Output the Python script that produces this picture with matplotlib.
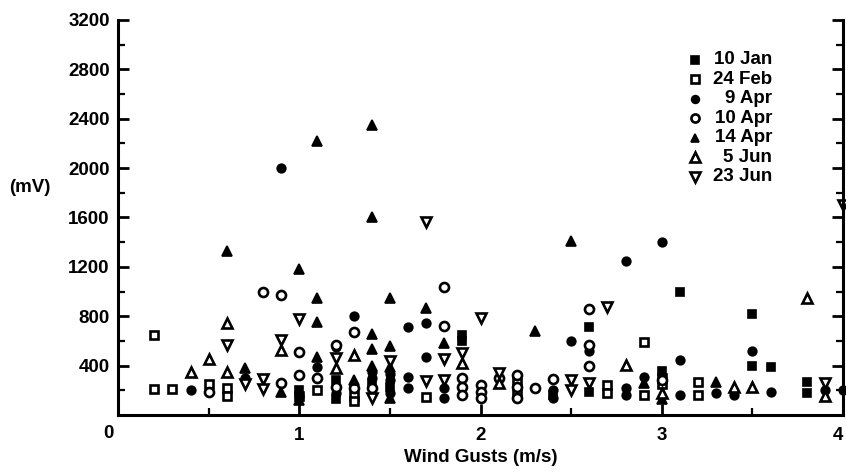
import matplotlib
matplotlib.use("Agg")
import matplotlib.pyplot as plt
import matplotlib.transforms as mtransforms
from matplotlib.ticker import MultipleLocator

plt.rcParams['font.family'] = ['Liberation Sans', 'DejaVu Sans']
plt.rcParams['font.weight'] = 'bold'

# ---- data (wind gust m/s, signal mV) ----
jan10_x = [1.0, 1.2, 1.2, 1.4, 1.5, 1.9, 1.9, 2.4, 2.6, 2.6, 3.0, 3.1, 3.5, 3.5, 3.6, 3.8, 3.8]
jan10_y = [200, 280, 130, 260, 230, 650, 600, 160, 715, 186, 360, 1000, 818, 397, 389, 267, 178]

feb24_x = [0.2, 0.2, 0.3, 0.5, 0.6, 0.6, 1.0, 1.1, 1.3, 1.3, 1.7, 2.2, 2.2, 2.7, 2.7, 2.9, 2.9, 3.0, 3.0, 3.2, 3.2]
feb24_y = [650, 210, 210, 250, 220, 150, 150, 200, 150, 110, 146, 275, 175, 243, 178, 590, 162, 300, 250, 267, 162]

apr9_x = [0.4, 0.7, 0.9, 1.0, 1.1, 1.2, 1.2, 1.3, 1.4, 1.4, 1.5, 1.5, 1.5, 1.6, 1.6, 1.6, 1.7, 1.7,
          1.8, 1.8, 2.4, 2.4, 2.5, 2.6, 2.8, 2.8, 2.8, 2.9, 3.0, 3.1, 3.1, 3.3, 3.4, 3.5, 3.6, 3.9, 4.0]
apr9_y = [200, 300, 2000, 150, 390, 550, 180, 800, 350, 300, 330, 280, 180, 712, 305, 218, 745, 470,
          218, 138, 200, 140, 600, 518, 1250, 218, 162, 310, 1400, 445, 162, 178, 162, 518, 186, 200, 200]

apr10_x = [0.5, 0.8, 0.9, 0.9, 1.0, 1.0, 1.1, 1.2, 1.2, 1.3, 1.3, 1.4, 1.8, 1.8, 1.9, 1.9, 1.9,
           2.0, 2.0, 2.0, 2.1, 2.2, 2.2, 2.2, 2.3, 2.4, 2.6, 2.6, 2.6, 3.0]
apr10_y = [190, 1000, 970, 260, 510, 324, 300, 567, 230, 670, 220, 220, 720, 1040, 300, 227, 162,
           243, 186, 138, 300, 325, 225, 140, 220, 290, 860, 567, 400, 280]

apr14_x = [0.6, 0.7, 0.9, 1.0, 1.0, 1.1, 1.1, 1.1, 1.1, 1.3, 1.4, 1.4, 1.4, 1.4, 1.4, 1.5, 1.5,
           1.5, 1.5, 1.7, 1.8, 2.3, 2.5, 2.9, 3.0, 3.3]
apr14_y = [1330, 380, 190, 1180, 120, 2220, 950, 755, 470, 280, 2350, 1600, 655, 535, 400, 950, 560,
           390, 140, 865, 580, 680, 1410, 260, 130, 267]

jun5_x = [0.4, 0.5, 0.6, 0.6, 0.9, 1.2, 1.3, 1.9, 2.1, 2.8, 3.0, 3.4, 3.5, 3.8, 3.9]
jun5_y = [350, 455, 745, 350, 527, 380, 485, 420, 260, 405, 180, 227, 227, 948, 150]

jun23_x = [0.6, 0.7, 0.8, 0.8, 0.9, 1.0, 1.2, 1.4, 1.5, 1.7, 1.7, 1.8, 1.8, 1.9, 2.0, 2.1, 2.5,
           2.5, 2.6, 2.7, 3.9, 4.0]
jun23_y = [567, 250, 290, 210, 607, 778, 460, 140, 437, 1560, 275, 453, 283, 500, 785, 340, 283,
           200, 260, 875, 260, 1700]

series_names = ["10 Jan", "24 Feb", "9 Apr", "10 Apr", "14 Apr", "5 Jun", "23 Jun"]

FS = 13.5

fig = plt.figure(figsize=(8.46, 4.74), dpi=100)
ax = fig.add_axes([118/846, 1-415/474, 725/846, 395/474])

styles = [
    dict(marker='s', mfc='black', mec='black', ms=6.0, mew=1.2),
    dict(marker='s', mfc='white', mec='black', ms=6.3, mew=1.9),
    dict(marker='o', mfc='black', mec='black', ms=6.2, mew=1.2),
    dict(marker='o', mfc='white', mec='black', ms=6.5, mew=1.9),
    dict(marker='^', mfc='black', mec='black', ms=6.5, mew=1.2),
    dict(marker='^', mfc='white', mec='black', ms=7.5, mew=1.9),
    dict(marker='v', mfc='white', mec='black', ms=7.5, mew=1.9),
]
data = [(jan10_x, jan10_y), (feb24_x, feb24_y), (apr9_x, apr9_y), (apr10_x, apr10_y),
        (apr14_x, apr14_y), (jun5_x, jun5_y), (jun23_x, jun23_y)]

for (xs, ys), st in zip(data, styles):
    ax.plot(xs, ys, linestyle='none', clip_on=False, **st)

ax.set_xlim(0, 4)
ax.set_ylim(0, 3200)

for s in ['left', 'bottom', 'right']:
    ax.spines[s].set_linewidth(2.2)
ax.spines['top'].set_visible(False)

ax.xaxis.set_major_locator(MultipleLocator(1))
ax.xaxis.set_minor_locator(MultipleLocator(0.5))
ax.yaxis.set_major_locator(MultipleLocator(400))
ax.yaxis.set_minor_locator(MultipleLocator(200))
ax.tick_params(which='major', direction='in', length=8, width=2, labelsize=FS)
ax.tick_params(which='minor', direction='in', length=5, width=1.6)
ax.tick_params(axis='y', which='major', pad=6)
ax.tick_params(axis='x', which='major', pad=9)
ax.tick_params(axis='y', which='both', left=True, right=True)
ax.tick_params(axis='x', which='both', top=False)

ax.set_xticks([0, 1, 2, 3, 4])
ax.set_xticklabels(['0', '1', '2', '3', '4'], fontweight='bold')
yt = list(range(0, 3201, 400))
ax.set_yticks(yt)
ax.set_yticklabels([''] + [str(v) for v in yt[1:]], fontweight='bold')
xlabels = ax.get_xticklabels()
# shift the corner "0" left and slightly up
xlabels[0].set_transform(xlabels[0].get_transform() + mtransforms.ScaledTranslation(-10/100, 2/100, fig.dpi_scale_trans))
# keep the last "4" inside the canvas
xlabels[-1].set_transform(xlabels[-1].get_transform() + mtransforms.ScaledTranslation(-5/100, 0, fig.dpi_scale_trans))

ax.set_xlabel('Wind Gusts (m/s)', fontsize=FS, fontweight='bold', labelpad=3)
fig.text(30/846, 1-187/474, '(mV)', fontsize=FS, fontweight='bold', ha='center', va='center')

# legend drawn manually
y0 = (415-60)/395
dy = 19.5/395
for i, (name, st) in enumerate(zip(series_names, styles)):
    yy = y0 - i*dy
    st2 = dict(st)
    st2['ms'] = st['ms']*0.9
    ax.plot([(695-118)/725], [yy], transform=ax.transAxes, linestyle='none', clip_on=False, **st2)
    ax.text((772-118)/725, yy, name, transform=ax.transAxes, ha='right', va='center',
            fontsize=FS, fontweight='bold')

fig.savefig('out.png', dpi=100)
